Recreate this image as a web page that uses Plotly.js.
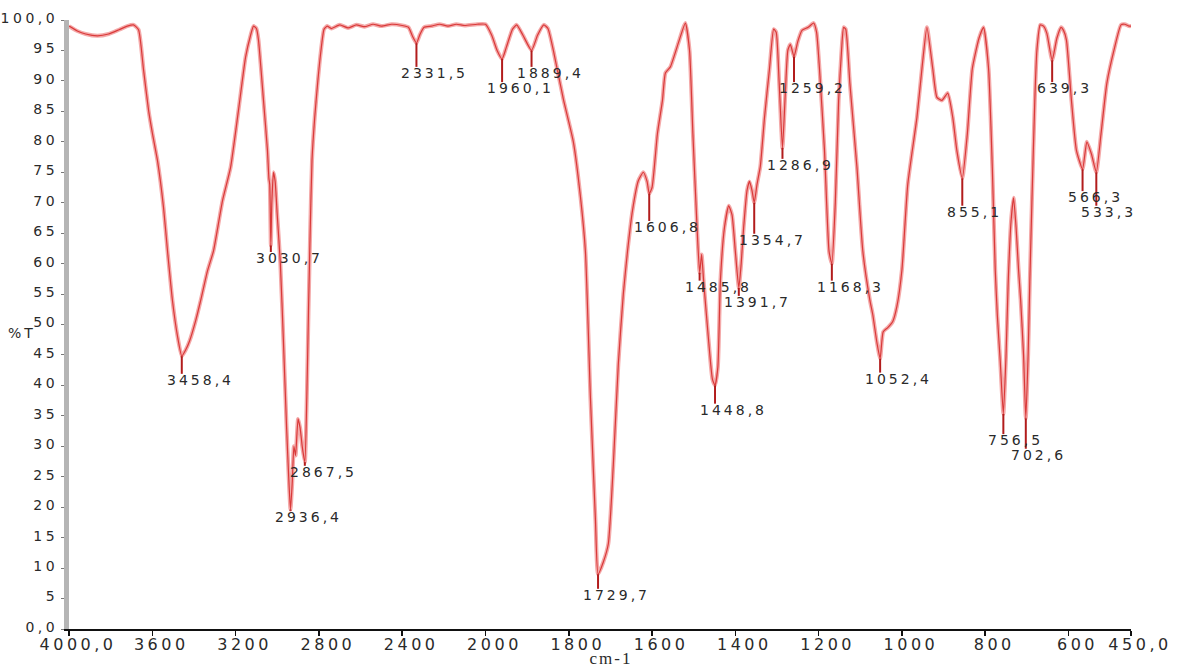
<!DOCTYPE html>
<html>
<head>
<meta charset="utf-8">
<script src="https://cdn.plot.ly/plotly-3.0.1.min.js"></script>
<style>
  html, body { margin: 0; padding: 0; background: #ffffff; }
  #chart { width: 1180px; height: 668px; }
  .xtick text { letter-spacing: 3.5px; }
  .ytick text { letter-spacing: 3.5px; }
  .annotation-text { letter-spacing: 3px; }
  .xtitle { letter-spacing: 2px; transform: translate(11px, 6px); }
</style>
</head>
<body>
<div id="chart"></div>
<script>
// ---- spectrum (wavenumber in cm-1, transmittance in %T) ----
const wavenumber = [
  4000, 3960, 3920, 3863, 3810, 3760, 3720, 3690, 3666, 3642, 3618, 3600, 3575, 3546, 3527, 3503, 3479, 3458.4,
  3440, 3421, 3392, 3368, 3335, 3306, 3263, 3224, 3186, 3152, 3128, 3114, 3100, 3090, 3066, 3047, 3040, 3036,
  3030.7, 3026, 3018, 3010, 3000, 2985, 2970, 2955, 2945, 2936.4, 2928, 2920, 2912, 2900, 2890, 2880, 2867.5,
  2858, 2850, 2842, 2833, 2820, 2805, 2790, 2775, 2760, 2740, 2700, 2660, 2620, 2580, 2540, 2500, 2450, 2400,
  2370, 2350, 2331.5, 2315, 2295, 2260, 2220, 2180, 2140, 2100, 2040, 2000,
  1985, 1972, 1960.1, 1950, 1935, 1925, 1910, 1889.4, 1875, 1860, 1850, 1837, 1813, 1789, 1772, 1760, 1748,
  1736, 1729.7, 1717, 1705, 1693, 1681, 1669, 1659, 1647, 1633, 1621, 1612, 1606.8, 1600, 1587, 1575, 1568,
  1556, 1537, 1520, 1510, 1502, 1492, 1485.8, 1481, 1476, 1465, 1455, 1448.8, 1442, 1436, 1426, 1416, 1408,
  1400, 1391.7, 1386, 1380, 1372, 1366, 1360, 1354.7, 1348, 1340, 1330, 1318, 1308, 1302, 1295, 1286.9, 1280,
  1274, 1268, 1259.2, 1250, 1240, 1225, 1212, 1205, 1198, 1186, 1175, 1168.3, 1160, 1152, 1145, 1140, 1135,
  1125, 1108, 1094, 1077, 1070, 1060, 1052.4, 1045, 1034, 1022, 1012, 1000, 986, 964, 952, 940, 926, 916, 904,
  890, 878, 868, 855.1, 843, 831, 815, 804, 792, 783, 776, 771, 764, 756.5, 750, 745, 738, 732, 726, 720, 715,
  708, 702.6, 697, 693, 688, 681, 676, 668, 660, 652, 639.3, 628, 618, 612, 605, 593, 581, 566.3, 556, 545,
  533.3, 522, 508, 491, 474, 465, 455, 450
];
const transmittance = [
  99.0, 98.2, 97.7, 97.4, 97.7, 98.4, 99.0, 99.2, 98.4, 91.8, 85.2, 81.5, 76.9, 69.2, 62.1, 53.9, 48.1, 44.8,
  45.8, 47.3, 50.6, 53.9, 58.8, 62.1, 70.3, 75.8, 85.2, 93.9, 97.5, 99.0, 98.6, 96.7, 86.8, 78.6, 74.0, 73.0,
  63.0, 70.0, 75.0, 73.5, 68.0, 60.0, 47.0, 33.0, 25.0, 19.6, 24.0, 30.0, 28.5, 34.5, 33.0, 30.0, 27.4,
  38.0, 52.0, 65.0, 77.0, 84.0, 90.0, 95.0, 98.5, 99.0, 98.6, 99.2, 98.7, 99.2, 98.9, 99.3, 99.0, 99.3, 99.1,
  98.8, 97.3, 96.2, 97.6, 98.8, 99.0, 99.3, 99.0, 99.3, 99.1, 99.3, 99.3,
  97.5, 95.0, 93.6, 95.5, 98.5, 99.2, 97.5, 95.0, 97.5, 99.2, 98.6, 95.0, 87.0, 80.0, 71.0, 62.0, 38.0,
  18.0, 9.0, 11.0, 14.0, 27.0, 43.5, 55.0, 62.0, 68.7, 73.6, 75.0, 73.5, 71.5, 72.5, 81.4, 86.8, 91.3,
  92.3, 96.2, 99.5, 95.0, 81.4, 66.0, 58.5, 61.5, 57.0, 48.0, 41.0, 40.0, 43.0, 57.0, 66.0, 69.5, 68.0,
  62.0, 56.0, 60.0, 66.0, 72.0, 73.5, 72.0, 70.0, 73.0, 76.0, 84.0, 92.0, 98.5, 98.0, 90.0, 79.0, 88.0,
  95.0, 96.0, 94.0, 96.5, 98.3, 98.8, 99.5, 98.0, 92.0, 78.6, 62.0, 60.0, 70.0, 86.8, 95.0, 98.8, 98.5,
  89.6, 75.8, 62.1, 54.0, 51.6, 47.0, 44.4, 48.8, 49.5, 50.5, 53.0, 59.0, 73.0, 84.0, 92.0, 98.8, 92.0, 87.3, 86.8,
  88.0, 84.0, 78.5, 74.0, 81.3, 92.0, 97.0, 98.8, 92.0, 75.7, 59.0, 51.6, 44.0, 35.3, 45.0, 56.7, 67.0, 70.8, 66.0, 59.0, 54.0,
  45.0, 34.6, 45.0, 57.0, 70.0, 86.8, 95.0, 99.2, 99.0, 97.8, 93.4, 97.0, 98.8, 98.3, 96.7, 86.8, 78.6, 75.5, 80.0, 78.0,
  75.0, 81.3, 89.6, 95.0, 99.2, 99.3, 99.0, 99.0
];

// ---- labelled peaks (cm-1) ----
const peakWavenumbers = [3458.4, 3030.7, 2936.4, 2867.5, 2331.5, 1960.1, 1889.4, 1729.7, 1606.8, 1485.8,
  1448.8, 1391.7, 1354.7, 1286.9, 1259.2, 1168.3, 1052.4, 855.1, 756.5, 702.6, 639.3, 566.3, 533.3];

// ---- axis ticks ----
const xTickWavenumbers = [4000, 3600, 3200, 2800, 2400, 2000, 1800, 1600, 1400, 1200, 1000, 800, 600, 450];
const xTickLabels = ['4000,0', '3600', '3200', '2800', '2400', '2000', '1800', '1600', '1400', '1200', '1000', '800', '600', '450,0'];
const yTickValues = [0, 5, 10, 15, 20, 25, 30, 35, 40, 45, 50, 55, 60, 65, 70, 75, 80, 85, 90, 95, 100];
const yTickLabels = ['0,0', '5', '10', '15', '20', '25', '30', '35', '40', '45', '50', '55', '60', '65', '70', '75', '80', '85', '90', '95', '100,0'];

// ---- placement of the peak labels (%T level of each label) ----
const labelLevels = [40.9, 60.9, 18.4, 25.8, 91.3, 88.8, 91.3, 5.6, 66.0, 56.2, 36.0, 53.7, 63.9, 76.2, 88.8,
  56.2, 41.1, 68.5, 31.0, 28.6, 88.8, 70.9, 68.5];

// Instrument abscissa: scale halves above 2000 cm-1
function toAxis(w) { return w > 2000 ? 2000 + (w - 2000) / 2 : w; }
function fmt(w) { return w.toFixed(1).replace('.', ','); }

const xs = wavenumber.map(toAxis);

const markerX = [], markerY = [];
const annotations = [];
peakWavenumbers.forEach(function (w, i) {
  const idx = wavenumber.indexOf(w);
  const t = transmittance[idx];
  markerX.push(toAxis(w), toAxis(w), null);
  markerY.push(t, labelLevels[i] + 1.0, null);
  annotations.push({
    x: toAxis(w), y: labelLevels[i], xref: 'x', yref: 'y',
    text: fmt(w), showarrow: false, xanchor: 'left', yanchor: 'middle', xshift: -17,
    font: { family: 'DejaVu Sans', size: 14, color: '#2a2a2a' }
  });
});

annotations.push({
  x: -0.044, xref: 'paper', y: 48.6, yref: 'y', text: '%T', showarrow: false,
  xanchor: 'center', yanchor: 'middle',
  font: { family: 'DejaVu Sans', size: 14, color: '#2a2a2a' }
});

const traces = [
  { x: xs, y: transmittance, type: 'scatter', mode: 'lines', hoverinfo: 'skip',
    line: { color: '#f4a9a9', width: 4, shape: 'spline', smoothing: 0.5 } },
  { x: xs, y: transmittance, type: 'scatter', mode: 'lines', name: '%T',
    line: { color: '#d93a3a', width: 1.2, shape: 'spline', smoothing: 0.5 } },
  { x: markerX, y: markerY, type: 'scatter', mode: 'lines', hoverinfo: 'skip',
    line: { color: '#b21c1c', width: 2 } }
];

const layout = {
  width: 1180, height: 668,
  margin: { l: 69, r: 49, t: 20, b: 39 },
  paper_bgcolor: '#ffffff', plot_bgcolor: '#ffffff',
  showlegend: false,
  xaxis: {
    range: [toAxis(4000), toAxis(450)],
    tickmode: 'array',
    tickvals: xTickWavenumbers.map(toAxis),
    ticktext: xTickLabels,
    showgrid: false, zeroline: false,
    showline: true, linecolor: '#111111', linewidth: 1.5,
    ticks: 'outside', ticklen: 5, tickwidth: 1.5, tickcolor: '#111111',
    ticklabelshift: -9,
    ticklabelstandoff: -5,
    tickfont: { family: 'DejaVu Sans', size: 16, color: '#2a2a2a' },
    title: { text: 'cm-1', font: { family: 'Liberation Serif', size: 17, color: '#2a2a2a' } }
  },
  yaxis: {
    range: [0, 100],
    tickmode: 'array',
    tickvals: yTickValues,
    ticktext: yTickLabels,
    showgrid: false, zeroline: false,
    showline: true, linecolor: '#b5b5b5', linewidth: 5,
    ticks: 'outside', ticklen: 3, tickwidth: 1, tickcolor: '#777777',
    ticklabelshift: -2,
    tickfont: { family: 'DejaVu Sans', size: 14, color: '#2a2a2a' }
  },
  annotations: annotations
};

Plotly.newPlot('chart', traces, layout, { displayModeBar: false, staticPlot: true });
</script>
</body>
</html>
